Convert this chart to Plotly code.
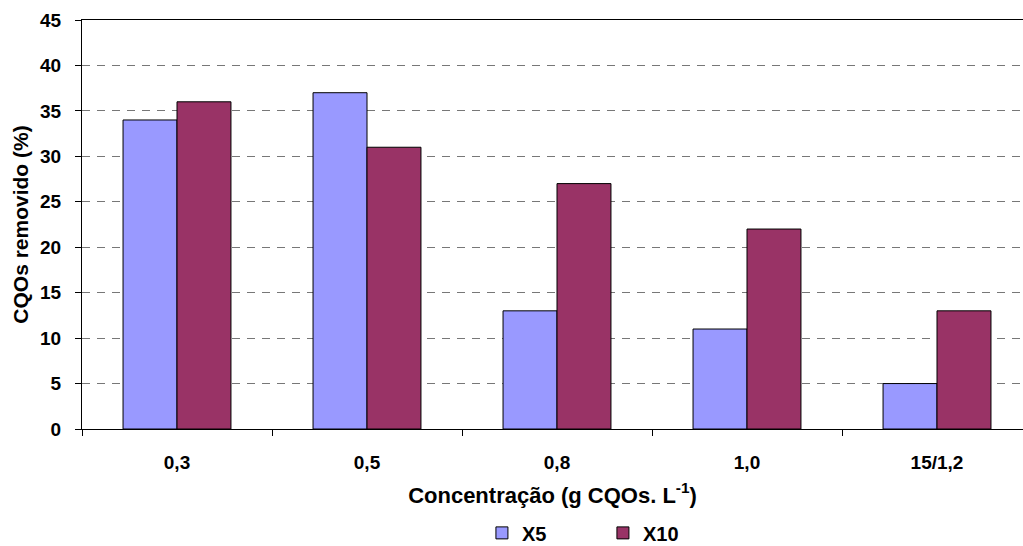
import plotly.graph_objects as go

# Removal of soluble COD by concentration, for two dilutions
categories = ["0,3", "0,5", "0,8", "1,0", "15/1,2"]
x5_values = [34, 37, 13, 11, 5]
x10_values = [36, 31, 27, 22, 13]
y_ticks = [0, 5, 10, 15, 20, 25, 30, 35, 40, 45]

FONT = "Arial, Liberation Sans, sans-serif"

fig = go.Figure()
fig.add_trace(go.Bar(
    name="X5", x=categories, y=x5_values,
    marker=dict(color="#9999FF", line=dict(color="#000000", width=1)),
))
fig.add_trace(go.Bar(
    name="X10", x=categories, y=x10_values,
    marker=dict(color="#993366", line=dict(color="#000000", width=1)),
))

fig.update_layout(
    width=1023, height=546,
    margin=dict(l=82, r=0, t=20, b=117, autoexpand=False),
    paper_bgcolor="white", plot_bgcolor="white",
    barmode="group", bargap=0.432, bargroupgap=0,
    font=dict(family=FONT, size=19, color="#000000"),
    legend=dict(
        orientation="h", x=0.425, y=-0.254, xanchor="left", yanchor="middle",
        font=dict(family=FONT, size=20, color="#000000", weight="bold"),
        itemwidth=30, entrywidth=76, traceorder="normal",
    ),
    xaxis=dict(
        type="category", range=[-0.5, 4.4526], automargin=False,
        showline=True, linecolor="#000000", linewidth=1, mirror=True,
        ticks="outside", tickson="boundaries", ticklen=6, tickcolor="#000000",
        showgrid=False, ticklabelstandoff=16,
        tickfont=dict(family=FONT, size=19, weight="bold"),
        title=dict(text="Concentração (g CQOs. L<sup>-1</sup>)",
                   font=dict(family=FONT, size=22, weight="bold"), standoff=15),
    ),
    yaxis=dict(
        range=[0, 45], tickvals=y_ticks, automargin=False,
        showline=True, linecolor="#000000", linewidth=1,
        ticks="outside", ticklen=6, tickcolor="#000000",
        showgrid=True, gridcolor="#777777", gridwidth=1, griddash="8px,7px",
        zeroline=False, ticklabelstandoff=10,
        tickfont=dict(family=FONT, size=19, weight="bold"),
        title=dict(text="CQOs removido (%)",
                   font=dict(family=FONT, size=21, weight="bold"), standoff=5),
    ),
)

fig.write_html("out.html")
